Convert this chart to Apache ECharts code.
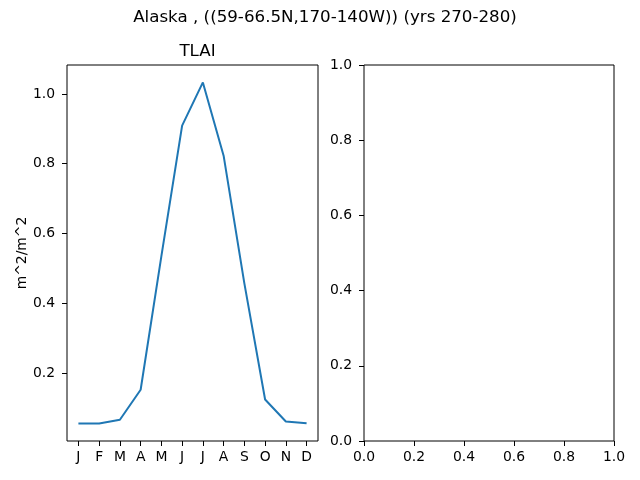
<!DOCTYPE html>
<html>
<head>
<meta charset="utf-8">
<script src="https://cdn.jsdelivr.net/npm/echarts@6/dist/echarts.min.js"></script>
<style>html,body{margin:0;padding:0;background:#fff}#c{width:640px;height:480px}</style>
</head>
<body>
<div id="c"></div>
<script>
const months = ['J','F','M','A','M','J','J','A','S','O','N','D'];
const tlai = [0.055, 0.055, 0.066, 0.152, 0.535, 0.909, 1.033, 0.823, 0.457, 0.124, 0.061, 0.056];
const leftYTicks = [0.2, 0.4, 0.6, 0.8, 1.0];
const suptitle = 'Alaska , ((59-66.5N,170-140W)) (yrs 270-280)';
const panelTitle = 'TLAI';
const yUnits = 'm^2/m^2';

const font = 'DejaVu Sans';
const fs = 13.9;
const monthIdx = months.map((m, i) => i);

const chart = echarts.init(document.getElementById('c'), null, {renderer: 'canvas'});
const tickStyle = {show: true, inside: false, length: 5, lineStyle: {color: '#000', width: 1}};
const labelStyle = {color: '#000', fontFamily: font, fontSize: fs};
const noLine = {show: false, onZero: false};

chart.setOption({
  animation: false,
  backgroundColor: '#fff',
  title: [
    {text: suptitle, left: 320, top: 4, textAlign: 'center',
     textStyle: {fontFamily: font, fontSize: 16.7, fontWeight: 'normal', color: '#000'}},
    {text: panelTitle, left: 192.5, top: 38, textAlign: 'center',
     textStyle: {fontFamily: font, fontSize: 16.7, fontWeight: 'normal', color: '#000'}}
  ],
  grid: [
    {left: 67, right: 322, top: 65, bottom: 39, show: true, borderColor: '#000', borderWidth: 1, backgroundColor: 'transparent'},
    {left: 364, right: 26, top: 65, bottom: 39, show: true, borderColor: '#000', borderWidth: 1, backgroundColor: 'transparent'}
  ],
  xAxis: [
    {type: 'value', gridIndex: 0, min: -0.55, max: 11.55,
     axisLine: noLine, splitLine: {show: false},
     axisTick: Object.assign({customValues: monthIdx}, tickStyle),
     axisLabel: Object.assign({customValues: monthIdx, margin: 9,
       formatter: v => months[Math.round(v)]}, labelStyle)},
    {type: 'value', gridIndex: 1, min: 0, max: 1, interval: 0.2,
     axisLine: noLine, splitLine: {show: false},
     axisTick: tickStyle,
     axisLabel: Object.assign({margin: 9, formatter: v => v.toFixed(1)}, labelStyle)}
  ],
  yAxis: [
    {type: 'value', gridIndex: 0, min: 0.005, max: 1.083,
     axisLine: noLine, splitLine: {show: false},
     axisTick: Object.assign({customValues: leftYTicks}, tickStyle),
     axisLabel: Object.assign({customValues: leftYTicks, margin: 12,
       formatter: v => v.toFixed(1)}, labelStyle),
     name: yUnits, nameLocation: 'middle', nameGap: 38,
     nameTextStyle: {fontFamily: font, fontSize: fs, color: '#000'}},
    {type: 'value', gridIndex: 1, min: 0, max: 1, interval: 0.2,
     axisLine: noLine, splitLine: {show: false},
     axisTick: tickStyle,
     axisLabel: Object.assign({margin: 12, formatter: v => v.toFixed(1)}, labelStyle)}
  ],
  series: [
    {type: 'line', xAxisIndex: 0, yAxisIndex: 0,
     data: tlai.map((v, i) => [i, v]),
     showSymbol: false, lineStyle: {color: '#1f77b4', width: 2}, itemStyle: {color: '#1f77b4'}},
    {type: 'line', xAxisIndex: 1, yAxisIndex: 1, data: []}
  ]
});
</script>
</body>
</html>
